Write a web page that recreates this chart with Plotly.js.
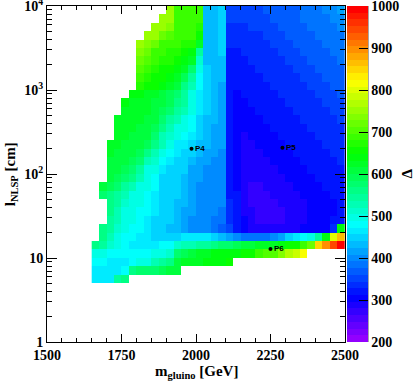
<!DOCTYPE html>
<html>
<head>
<meta charset="utf-8">
<script src="https://cdn.plot.ly/plotly-3.0.1.min.js"></script>
<style>
  html, body { margin: 0; padding: 0; background: #fff; }
  #chart { width: 415px; height: 388px; }
</style>
</head>
<body>
<div id="chart"></div>
<script>
var _ = null;

// column edges: gluino mass (GeV)
var massEdges = [1650, 1675, 1700, 1725, 1750, 1775, 1800, 1825, 1850, 1875, 1900, 1925,
    1950, 1975, 2000, 2025, 2050, 2075, 2100, 2125, 2150, 2175, 2200, 2225, 2250, 2275,
    2300, 2325, 2350, 2375, 2400, 2425, 2450, 2475, 2500];

// row edges: log10 of the NLSP decay length (cm)
var logLenEdges = [0.7, 0.8, 0.9, 1.0, 1.1, 1.2, 1.3, 1.4, 1.5, 1.6, 1.7, 1.8, 1.9, 2.0,
    2.1, 2.2, 2.3, 2.4, 2.5, 2.6, 2.7, 2.8, 2.9, 3.0, 3.1, 3.2, 3.3, 3.4, 3.5, 3.6, 3.7,
    3.8, 3.9, 4.0];

// Delta per cell, top row (log 3.9-4.0) first; missing tail = empty
var deltaRows = [
    [_,_,_,_,_,_,_,_,_,_, 750,690,680,680,680,430,430,450, 350,350,350,350,355,365,370,370,375,375,385,385,390,395,405,410],
    [_,_,_,_,_,_,_,_,_, 750,750,690,680,680,680,430,430,450, 345,345,345,350,350,355,365,370,370,375,380,385,385,390,400,405],
    [_,_,_,_,_,_,_,_, 750,750,730,690,680,680,670,430,430,450, 340,340,340,345,345,350,355,365,370,370,375,380,385,385,390,400],
    [_,_,_,_,_,_,_, 750,745,720,700,680,680,680,660,430,430,440, 335,335,335,340,340,345,350,355,365,370,370,375,380,385,385,390],
    [_,_,_,_,_,_, 750,735,720,690,680,680,670,670,620,430,430,440, 330,330,330,335,340,340,345,350,355,365,370,370,375,380,385,385],
    [_,_,_,_,_,_, 735,720,690,680,670,670,660,640,540,430,430,440, 325,325,330,330,335,340,340,345,350,355,365,370,370,375,380,385],
    [_,_,_,_,_,_, 720,700,680,670,665,660,645,620,510,430,430,430, 320,320,325,330,330,335,340,340,345,350,355,365,370,370,375,380],
    [_,_,_,_,_,_, 700,680,665,655,650,640,625,570,500,440,430,430, 320,320,320,325,330,330,335,340,340,345,350,355,365,370,370,375],
    [_,_,_,_,_,_, 680,665,655,650,640,625,590,540,485,440,430,430, 315,315,320,320,325,330,330,335,340,340,345,350,355,365,370,370],
    [_,_,_,_,_,_, 665,655,650,640,625,605,560,520,475,440,430,420, 315,315,315,320,320,325,330,330,335,340,340,345,350,355,365,365],
    [_,_,_,_,_, 640,635,630,625,610,595,580,545,500,470,440,430,420, 315,310,315,315,320,320,325,330,330,335,340,340,345,350,355,365],
    [_,_,_,_, 635,630,625,625,615,600,585,565,540,495,465,440,430,420, 315,310,310,315,315,320,320,325,330,330,335,340,340,345,350,355],
    [_,_,_,_, 630,625,625,620,610,595,570,545,520,490,460,440,425,420, 315,305,305,310,315,315,320,320,325,330,330,335,340,340,345,350],
    [_,_,_, 630,625,625,620,615,600,575,545,525,500,485,455,435,425,415, 315,305,300,305,310,315,315,320,320,325,330,330,335,340,340,345],
    [_,_,_, 625,625,620,615,605,585,555,525,500,490,475,450,435,420,415, 315,300,300,300,305,310,315,315,320,320,325,330,330,335,340,340],
    [_,_,_, 625,620,615,610,600,570,535,510,490,475,460,445,430,420,410, 315,300,295,300,300,305,310,315,315,320,320,325,330,330,335,340],
    [_,_, 625,620,615,610,600,585,555,525,500,470,460,445,430,430,420,415, 320,300,295,295,300,300,305,310,315,315,320,320,325,330,330,335],
    [_,_, 620,615,610,600,585,560,525,500,485,465,455,440,430,420,410,405, 320,300,290,290,295,300,300,305,310,315,315,320,320,325,330,330],
    [_,_, 615,610,605,590,570,535,505,485,465,455,450,430,420,410,405,400, 320,305,290,285,290,295,300,300,305,310,315,315,320,320,325,330],
    [_,_, 610,605,595,575,545,500,490,460,450,445,440,420,410,405,400,400, 320,305,285,285,285,290,295,300,300,305,310,315,315,320,320,325],
    [_,_, 605,595,580,560,525,495,485,455,450,440,435,415,410,405,400,400, 320,310,285,280,280,285,290,295,300,300,305,310,315,315,320,320],
    [_, 600,590,575,550,525,500,490,480,450,445,440,430,415,405,400,400,395, 325,310,285,275,275,280,285,290,295,300,300,305,310,315,315,320],
    [_, 580,565,545,520,500,490,485,470,450,445,440,430,410,405,400,400,395, 325,315,285,275,270,275,280,285,290,295,300,300,305,310,315,315],
    [_,_, 560,545,510,495,490,480,465,450,440,435,425,410,405,400,395,395, 330,315,290,275,270,270,275,280,285,290,295,300,305,305,310,315],
    [_,_, 555,530,500,490,485,475,460,450,440,435,420,410,400,400,395,390, 330,320,295,280,270,270,270,275,285,290,295,300,305,305,310,320],
    [_,_, 550,520,495,490,480,470,455,445,440,430,420,405,400,395,390,385, 335,320,300,285,275,270,270,275,280,290,295,300,305,310,315,320],
    [_, 560,540,510,495,485,475,465,450,445,435,430,415,405,400,395,385,375, 345,325,305,290,285,280,280,285,290,295,300,305,310,310,330,640],
    [_, 555,530,500,485,475,465,460,455,450,450,455,460,465,465,460,445,430, 420,400,390,380,380,390,400,420,440,460,480,490,540,640,800,870],
    [560,545,515,490,480,470,465,465,470,475,485,510,520,530,540,550,560,570, 580,590,600,610,620,620,630,640,650,660,680,720,850,890,950,990],
    [490,495,485,480,475,475,480,485,490,500,510,570,590,610,620,630,635,640, 640,645,650,660,690,700,710,740,760,780,820],
    [480,475,470,470,470,480,490,500,520,540,560,600,620,630,630,640,640,645,650],
    [470,470,465,470,480,560,570,575,580,590,600,610],
    [470,465,465,540,560]
];

// benchmark points
var pointNames = ['P4', 'P5', 'P6'];
var pointMass = [1985, 2290, 2250];
var pointLength = [200, 205, 12.8];

// axis ticks
var massTicks = [1500, 1750, 2000, 2250, 2500];
var lenTicks = [1, 10, 100, 1000, 10000];
var lenTickText = ['1', '10', '10<sup>2</sup>', '10<sup>3</sup>', '10<sup>4</sup>'];
var deltaTicks = [200, 300, 400, 500, 600, 700, 800, 900, 1000];

// ROOT "pretty" palette: 50 steps, hue 280 -> 0
function rootPalette() {
    var scale = [];
    for (var i = 0; i < 50; i++) {
        var hue = 280 - (i + 1) * 5.6;
        var c = 'hsl(' + hue.toFixed(1) + ',100%,50%)';
        scale.push([i / 50, c]);
        scale.push([(i + 1) / 50, c]);
    }
    return scale;
}

function initGrafico() {
    var nCols = massEdges.length - 1;
    var z = deltaRows.slice().reverse().map(function(r) {
        var row = r.slice();
        while (row.length < nCols) row.push(null);
        return row;
    });

    // y axis drawn in log10 units, labelled as decades
    var massMinor = [];
    for (var m = 1550; m < 2500; m += 50) if (m % 250 !== 0) massMinor.push(m);
    var lenMinor = [];
    for (var d = 1; d <= 1000; d *= 10)
        for (var k = 2; k <= 9; k++) lenMinor.push(Math.log10(k * d));

    var tickFont = {family: 'Liberation Serif', size: 14, color: '#000', weight: 'bold'};

    var heat = {
        type: 'heatmap',
        x: massEdges,
        y: logLenEdges,
        z: z,
        zmin: 200,
        zmax: 1000,
        zsmooth: false,
        colorscale: rootPalette(),
        hoverongaps: false,
        colorbar: {
            x: (349 - 47) / 300, xanchor: 'left',
            y: 0, yanchor: 'bottom', len: 1, lenmode: 'fraction',
            thickness: 21, thicknessmode: 'pixels',
            xpad: 0, ypad: 0, outlinewidth: 0,
            tickmode: 'array', tickvals: deltaTicks,
            ticks: 'inside', ticklen: 9, tickcolor: '#000',
            ticklabeloverflow: 'allow',
            tickfont: tickFont
        }
    };

    var points = {
        type: 'scatter',
        mode: 'markers+text',
        x: pointMass,
        y: pointLength.map(function(v) { return Math.log10(v); }),
        text: pointNames,
        textposition: 'middle right',
        marker: {color: '#000', size: 4},
        textfont: {family: 'Liberation Sans', size: 8, color: '#000'},
        showlegend: false,
        hoverinfo: 'skip'
    };

    var layout = {
        width: 415,
        height: 388,
        margin: {l: 47, r: 68, t: 6, b: 46, pad: 0},
        paper_bgcolor: '#fff',
        plot_bgcolor: '#fff',
        font: tickFont,
        showlegend: false,
        xaxis: {
            range: [1500, 2500],
            tickmode: 'array', tickvals: massTicks,
            ticks: 'inside', ticklen: 8, tickcolor: '#000',
            minor: {tickmode: 'array', tickvals: massMinor, ticks: 'inside', ticklen: 4, tickcolor: '#000', showgrid: false},
            showline: true, linecolor: '#000', linewidth: 1, mirror: 'ticks',
            showgrid: false, zeroline: false,
            ticklabeloverflow: 'allow',
            tickfont: tickFont
        },
        yaxis: {
            range: [0, 4],
            tickmode: 'array',
            tickvals: lenTicks.map(function(v) { return Math.log10(v); }),
            ticktext: lenTickText,
            ticks: 'inside', ticklen: 10, tickcolor: '#000',
            minor: {tickmode: 'array', tickvals: lenMinor, ticks: 'inside', ticklen: 5, tickcolor: '#000', showgrid: false},
            showline: true, linecolor: '#000', linewidth: 1, mirror: 'ticks',
            showgrid: false, zeroline: false,
            ticklabeloverflow: 'allow',
            tickfont: tickFont
        },
        shapes: [{
            type: 'line', xref: 'paper', yref: 'paper',
            x0: (370 - 47) / 300, x1: (370 - 47) / 300, y0: 0, y1: 1,
            line: {color: '#000', width: 1}
        }],
        annotations: [
            {
                text: 'm<sub>gluino</sub> [GeV]', showarrow: false,
                xref: 'paper', yref: 'paper', x: 0.5, y: -(361 - 342) / 336,
                xanchor: 'center', yanchor: 'top',
                font: {family: 'Liberation Serif', size: 15, color: '#000', weight: 'bold'}
            },
            {
                text: 'l<sub>NLSP</sub> [cm]', showarrow: false, textangle: -90,
                xref: 'paper', yref: 'paper', x: (11 - 47) / 300, y: 0.5,
                xanchor: 'center', yanchor: 'middle',
                font: {family: 'Liberation Serif', size: 15, color: '#000', weight: 'bold'}
            },
            {
                text: 'Δ', showarrow: false, textangle: -90,
                xref: 'paper', yref: 'paper', x: (409 - 47) / 300, y: (342 - 174) / 336,
                xanchor: 'center', yanchor: 'middle',
                font: {family: 'Liberation Serif', size: 15, color: '#000'}
            }
        ]
    };

    Plotly.newPlot('chart', [heat, points], layout, {displayModeBar: false, staticPlot: true});
}

document.addEventListener('DOMContentLoaded', function() {
    initGrafico();
});
</script>
</body>
</html>
